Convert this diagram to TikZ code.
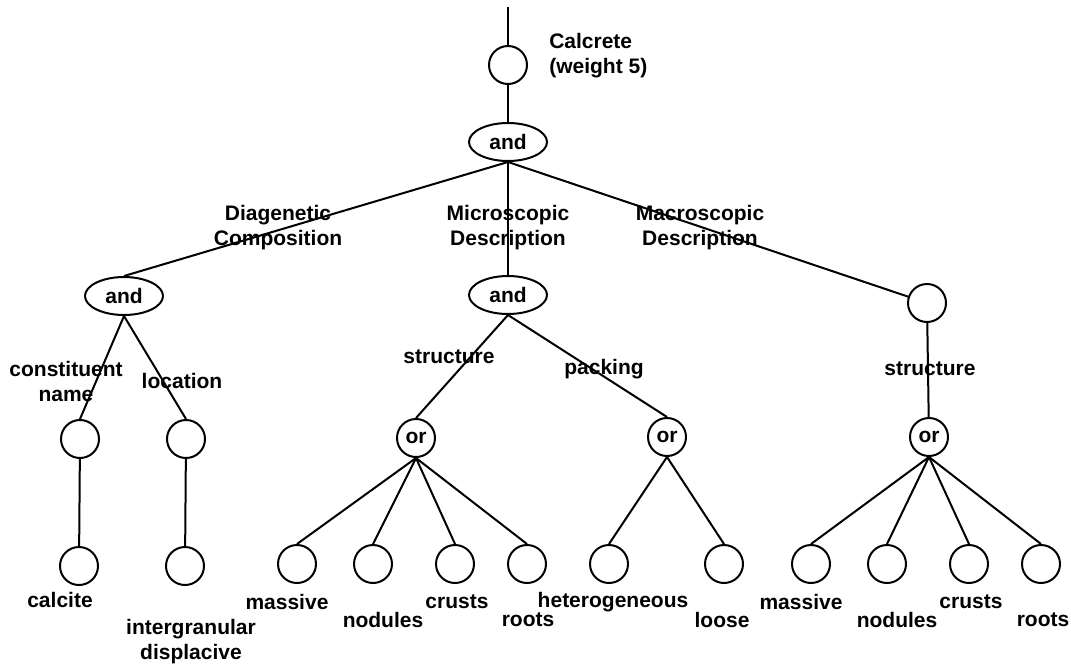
\documentclass[tikz,border=0pt]{standalone}
\usepackage{fontspec}
\setmainfont{Liberation Sans}
\usetikzlibrary{shapes.geometric}
\begin{document}
\begin{tikzpicture}[x=0.75pt,y=-0.75pt,
  every node/.style={font=\fontsize{15.75}{18.75}\selectfont\bfseries},
  circ/.style={draw,circle,minimum size=28.5pt,inner sep=0pt,line width=1.5pt},
  andn/.style={draw,ellipse,minimum width=58.5pt,minimum height=28.5pt,inner sep=0pt,line width=1.5pt},
  lbl/.style={align=center,inner sep=0pt},
  link/.style={line width=1.5pt}]
\useasboundingbox (0,0) rectangle (1071,665);
\fill[white] (0,0) rectangle (1071,665);
% nodes
\coordinate (top) at (508,7);
\node[circ] (root) at (508,65) {};
\node[andn] (a0) at (508,142) {and};
\node[andn] (aL) at (124,296) {and};
\node[andn] (aM) at (508,295) {and};
\node[circ] (cR) at (927,303) {};
\node[circ] (c1) at (80,439) {};
\node[circ] (c2) at (186,439) {};
\node[circ] (c1b) at (79,566) {};
\node[circ] (c2b) at (185,566) {};
\node[circ] (or1) at (416,438) {or};
\node[circ] (or2) at (667,437) {or};
\node[circ] (or3) at (929,437) {or};
\node[circ] (m1) at (297,564) {};
\node[circ] (m2) at (373,564) {};
\node[circ] (m3) at (455,564) {};
\node[circ] (m4) at (527,564) {};
\node[circ] (h1) at (609,564) {};
\node[circ] (h2) at (724,564) {};
\node[circ] (r1) at (811,564) {};
\node[circ] (r2) at (887,564) {};
\node[circ] (r3) at (969,564) {};
\node[circ] (r4) at (1041,564) {};
% labels
\node[lbl,anchor=west,align=left] (lroot) at (549,56) {Calcrete\\(weight 5)};
\node[lbl] (ldiag) at (278,228) {Diagenetic\\Composition};
\node[lbl] (lmic) at (508,228) {Microscopic\\Description};
\node[lbl] (lmac) at (700,228) {Macroscopic\\Description};
\node[lbl] (lcon) at (66,381) {constituent\\name};
\node[lbl] (lloc) at (182,381) {location};
\node[lbl] (lst1) at (449,357) {structure};
\node[lbl] (lpak) at (604,369) {packing};
\node[lbl] (lst2) at (930,369) {structure};
\node[lbl] (tcal) at (60,600) {calcite};
\node[lbl] (tint) at (191,642) {intergranular\\displacive};
\node[lbl] (tm1) at (287,602) {massive};
\node[lbl] (tm2) at (383,620) {nodules};
\node[lbl] (tm3) at (457,602) {crusts};
\node[lbl] (tm4) at (528,620) {roots};
\node[lbl] (th1) at (613,602) {heterogeneous};
\node[lbl] (th2) at (722,620) {loose};
\node[lbl] (tr1) at (801,602) {massive};
\node[lbl] (tr2) at (897,620) {nodules};
\node[lbl] (tr3) at (971,602) {crusts};
\node[lbl] (tr4) at (1043,620) {roots};
% connectors
\draw[link] (top) -- (root);
\draw[link] (root) -- (a0);
\draw[link] (a0.south) -- (aL.north);
\draw[link] (a0.south) -- (aM.north);
\draw[link] (a0.south) -- (cR);
\draw[link] (aL.south) -- (c1.north);
\draw[link] (aL.south) -- (c2.north);
\draw[link] (c1) -- (c1b);
\draw[link] (c2) -- (c2b);
\draw[link] (aM.south) -- (or1.north);
\draw[link] (aM.south) -- (or2.north);
\draw[link] (cR) -- (or3);
\foreach \t in {m1,m2,m3,m4} \draw[link] (or1.south) -- (\t.north);
\foreach \t in {h1,h2} \draw[link] (or2.south) -- (\t.north);
\foreach \t in {r1,r2,r3,r4} \draw[link] (or3.south) -- (\t.north);
\end{tikzpicture}
\end{document}
